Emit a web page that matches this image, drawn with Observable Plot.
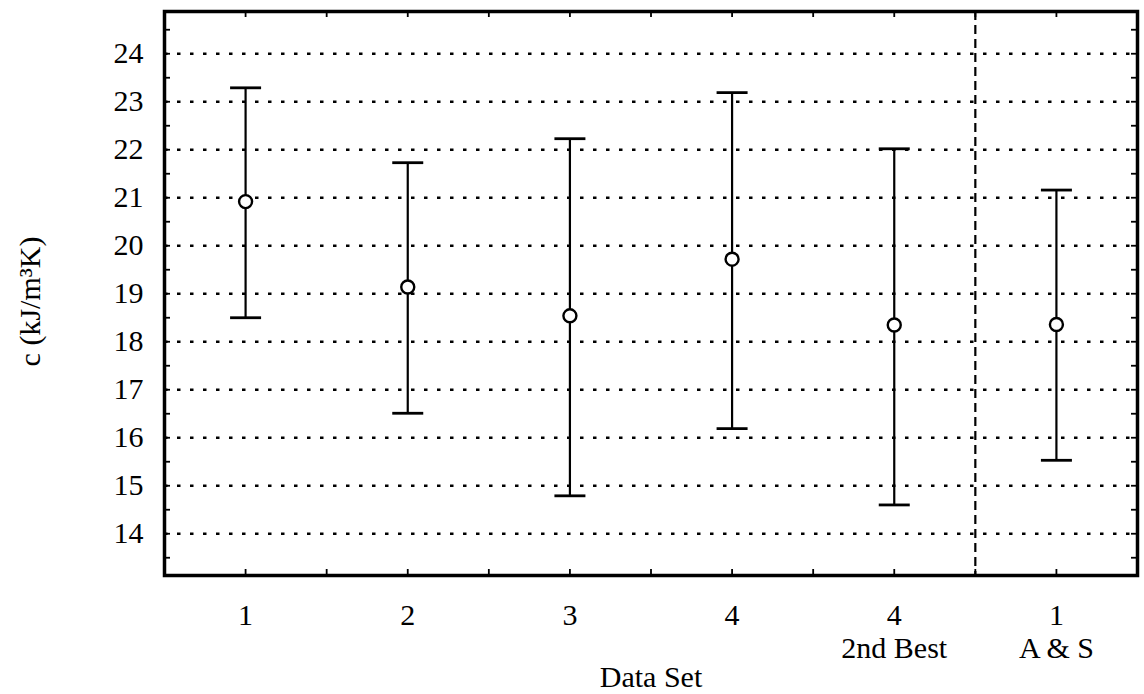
<!DOCTYPE html>
<html>
<head>
<meta charset="utf-8">
<script src="https://cdn.jsdelivr.net/npm/d3@7"></script>
<script src="https://cdn.jsdelivr.net/npm/@observablehq/plot@0.6"></script>
<style>
  html, body { margin: 0; padding: 0; background: #fff; }
</style>
</head>
<body>
<div id="chart"></div>
<script>
// Heat capacity estimates per data set: mean with lower/upper bounds
const dataSets = ["1", "2", "3", "4", "4\n2nd Best", "1\nA & S"];
const means = [20.92, 19.14, 18.54, 19.72, 18.35, 18.36];
const upper = [23.29, 21.73, 22.23, 23.19, 22.02, 21.16];
const lower = [18.50, 16.51, 14.79, 16.19, 14.60, 15.53];

// Axis ticks and the divider between own data sets and A & S
const yTicks = [14, 15, 16, 17, 18, 19, 20, 21, 22, 23, 24];
const yMinorTicks = d3.range(13.5, 24.51, 0.5);
const xMinorTicks = d3.range(1, 6.51, 0.5);
const dividerAt = [5.5];

const rows = dataSets.map((label, i) => ({
  pos: i + 1, label, mean: means[i], hi: upper[i], lo: lower[i]
}));

const width = 1144, height = 694;
const margin = {top: 11, right: 7, bottom: 119, left: 164};
const frameW = width - margin.left - margin.right;
const frameH = height - margin.top - margin.bottom;
const tickLen = 6;
const fs = 30;

// horizontal cap drawn as a dot symbol
const capSymbol = {
  draw(ctx, size) {
    const h = Math.sqrt(size / Math.PI);
    ctx.moveTo(-h, 0);
    ctx.lineTo(h, 0);
  }
};

const chart = Plot.plot({
  width, height,
  marginTop: margin.top, marginRight: margin.right,
  marginBottom: margin.bottom, marginLeft: margin.left,
  style: {fontFamily: "'Liberation Serif', 'Times New Roman', serif", fontSize: `${fs}px`, color: "#000", background: "#fff"},
  x: {domain: [0.5, 6.5], axis: null},
  y: {domain: [13.13, 24.88], axis: null},
  marks: [
    // dotted grid
    Plot.ruleY(yTicks, {stroke: "#000", strokeWidth: 2.5, strokeDasharray: "3.5,9.5"}),
    // dashed divider
    Plot.ruleX(dividerAt, {stroke: "#000", strokeWidth: 2.2, strokeDasharray: "9,5"}),
    // inward frame ticks
    Plot.tickY(yMinorTicks, {y: d => d, stroke: "#000", strokeWidth: 1.8, insetRight: frameW - tickLen}),
    Plot.tickY(yMinorTicks, {y: d => d, stroke: "#000", strokeWidth: 1.8, insetLeft: frameW - tickLen}),
    Plot.tickX(xMinorTicks, {x: d => d, stroke: "#000", strokeWidth: 1.8, insetBottom: frameH - tickLen}),
    Plot.tickX(xMinorTicks, {x: d => d, stroke: "#000", strokeWidth: 1.8, insetTop: frameH - tickLen}),
    // error bars
    Plot.ruleX(rows, {x: "pos", y1: "lo", y2: "hi", stroke: "#000", strokeWidth: 2.2}),
    Plot.dot(rows, {x: "pos", y: "hi", symbol: capSymbol, r: 15.5, fill: "none", stroke: "#000", strokeWidth: 2.8}),
    Plot.dot(rows, {x: "pos", y: "lo", symbol: capSymbol, r: 15.5, fill: "none", stroke: "#000", strokeWidth: 2.8}),
    // means
    Plot.dot(rows, {x: "pos", y: "mean", r: 6.5, fill: "#fff", stroke: "#000", strokeWidth: 2.4}),
    Plot.frame({stroke: "#000", strokeWidth: 3.5}),
    // axes
    Plot.axisY(yTicks, {anchor: "left", tickSize: 0, tickPadding: 21, fontSize: fs, label: null}),
    Plot.axisX(rows.map(d => d.pos), {anchor: "bottom", tickSize: 0, tickPadding: 26, fontSize: fs, lineHeight: 1.1,
      tickFormat: p => dataSets[p - 1], label: null}),
    Plot.text(["Data Set"], {frameAnchor: "bottom", dy: 90, lineAnchor: "top", fontSize: fs}),
    Plot.text(["c (kJ/m³K)"], {frameAnchor: "left", textAnchor: "middle", dx: -134, dy: 8, rotate: -90, fontSize: fs})
  ]
});

document.getElementById("chart").appendChild(chart);
</script>
</body>
</html>
